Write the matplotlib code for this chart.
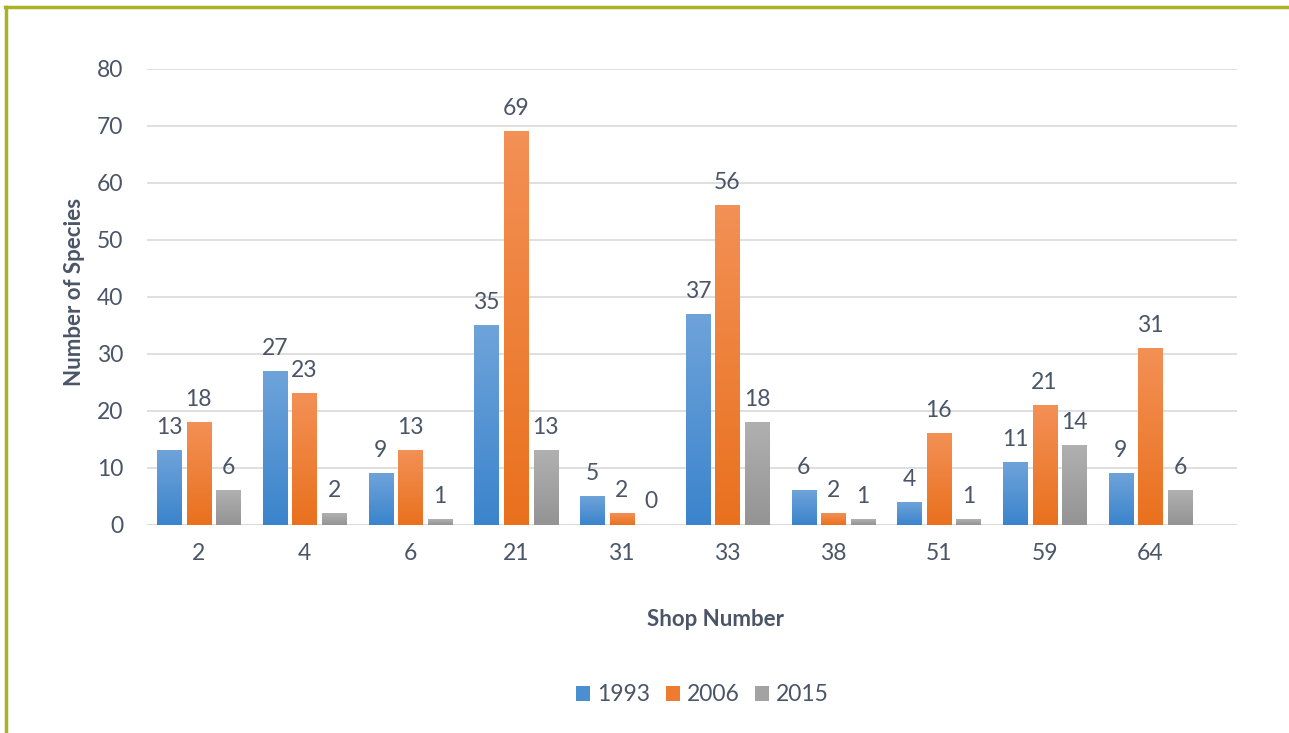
import matplotlib.pyplot as plt
import numpy as np
from matplotlib.lines import Line2D
from matplotlib.colors import LinearSegmentedColormap

shops = ['2', '4', '6', '21', '31', '33', '38', '51', '59', '64']
y1993 = [13, 27, 9, 35, 5, 37, 6, 4, 11, 9]
y2006 = [18, 23, 13, 69, 2, 56, 2, 16, 21, 31]
y2015 = [6, 2, 1, 13, 0, 18, 1, 1, 14, 6]

plt.rcParams['font.family'] = ['Lato', 'DejaVu Sans']
txt = '#4a5568'

fig = plt.figure(figsize=(12.89, 7.33), dpi=100)
ax = fig.add_axes([0.114, 0.2838, 0.8457, 0.6221])

x = np.arange(len(shops))
w = 0.227
step = 0.28
# (values, flat colour, top of gradient, bottom of gradient, label)
series = [(y1993, '#4a8fd2', '#6ea3da', '#3b84cc', '1993'),
          (y2006, '#ee7b30', '#f39055', '#e9711e', '2006'),
          (y2015, '#a3a3a3', '#b0b0b0', '#949494', '2015')]
grad = np.linspace(1, 0, 64).reshape(-1, 1)
for i, (vals, col, top, bot, lab) in enumerate(series):
    pos = x + (i - 1) * step
    bars = ax.bar(pos, vals, w, color=col, label=lab, zorder=3)
    cmap = LinearSegmentedColormap.from_list(lab, [bot, top])
    for b in bars:
        if b.get_height() > 0:
            x0, y0 = b.get_x(), b.get_y()
            ax.imshow(grad, cmap=cmap, extent=[x0, x0 + b.get_width(), y0, y0 + b.get_height()],
                      aspect='auto', zorder=4, interpolation='bilinear')
    for p, v in zip(pos, vals):
        ax.annotate(str(v), (p, v), xytext=(0, 9), textcoords='offset points',
                    ha='center', va='bottom', fontsize=16.5, color=txt, zorder=5)

ax.set_xlim(-0.49, 9.82)
ax.set_ylim(0, 80)
ax.set_yticks(range(0, 81, 10))
ax.set_xticks(x)
ax.set_xticklabels(shops)
ax.grid(axis='y', color='#d9d9d9', lw=1.2, zorder=0)
for s in ax.spines.values():
    s.set_visible(False)
ax.axhline(0, color='#d9d9d9', lw=1.2, zorder=1)
ax.tick_params(length=0, labelsize=16.5, labelcolor=txt)
ax.tick_params(axis='x', pad=13)
ax.tick_params(axis='y', pad=17)

fig.text(0.058, 0.602, 'Number of Species', rotation=90, ha='center', va='center',
         fontsize=16, fontweight='bold', color=txt)
fig.text(0.555, 0.155, 'Shop Number', ha='center', va='center',
         fontsize=16, fontweight='bold', color=txt)

fig.legend(loc='center', bbox_to_anchor=(0.545, 0.052), ncol=3, frameon=False,
           fontsize=16.5, labelcolor=txt, handlelength=0.6, handleheight=0.6,
           handletextpad=0.3, columnspacing=0.7)

# olive frame on the top and left edges
fig.add_artist(Line2D([5 / 1289, 1], [1 - 7 / 733, 1 - 7 / 733], color='#aab124', lw=2.5))
fig.add_artist(Line2D([6 / 1289, 6 / 1289], [0, 1 - 7 / 733], color='#aab124', lw=2.5))

fig.savefig('out.png', dpi=100)
